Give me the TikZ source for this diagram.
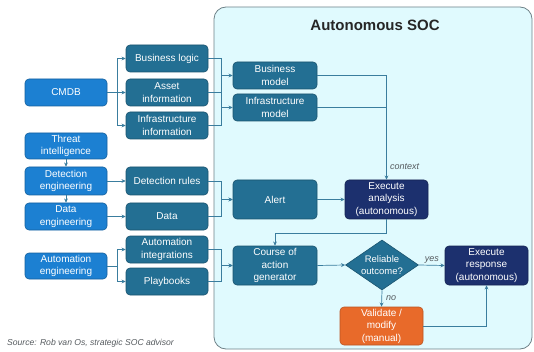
\documentclass[tikz,border=0pt]{standalone}
\usepackage{fontspec}
\setmainfont{Liberation Sans}
\usetikzlibrary{arrows.meta,shapes.geometric}

\definecolor{socbg}{HTML}{E0FAFE}
\definecolor{socedge}{HTML}{6E8288}
\definecolor{srcblue}{HTML}{1C80D2}
\definecolor{tealbox}{HTML}{236F93}
\definecolor{navybox}{HTML}{1C306E}
\definecolor{orangebox}{HTML}{E86A2A}
\definecolor{linecol}{HTML}{3A7D9E}
\definecolor{notegray}{HTML}{555A5E}

\begin{document}
\begin{tikzpicture}[x=1pt,y=-1pt,
  box/.style={rounded corners=4pt, line width=0.6pt, text=white, align=center,
    font=\fontsize{10}{12.5}\selectfont, inner sep=1pt,
    minimum width=82pt, minimum height=27pt},
  srcbox/.style={box, fill=srcblue, draw=srcblue!75!black},
  tealnode/.style={box, fill=tealbox, draw=tealbox!75!black},
  socnode/.style={box, fill=tealbox, draw=tealbox!75!black, minimum width=84pt},
  navynode/.style={box, fill=navybox, draw=navybox!75!black, minimum width=83pt, minimum height=39pt},
  ln/.style={draw=linecol, line width=0.7pt},
  arr/.style={ln, -{Stealth[length=4.2pt,width=3.8pt]}},
  note/.style={font=\fontsize{9}{11}\selectfont\itshape, text=notegray, inner sep=1pt}
]
\useasboundingbox (0,0) rectangle (534,352);

% Autonomous SOC frame
\draw[fill=socbg, draw=socedge, line width=0.8pt, rounded corners=12pt] (214,7) rectangle (532,349);
\node[font=\fontsize{15}{18}\selectfont\bfseries, text=black!85] (title) at (375,25) {Autonomous SOC};

% source column
\node[srcbox] (cmdb)    at (66,92.5)  {CMDB};
\node[srcbox, minimum height=26pt] (threat)  at (66,146)   {Threat\\intelligence};
\node[srcbox, minimum height=28pt] (deteng)  at (66,181)   {Detection\\engineering};
\node[srcbox] (dataeng) at (66,216.5) {Data\\engineering};
\node[srcbox, minimum height=26pt] (autoeng) at (66,266)   {Automation\\engineering};

% artefact column
\node[tealnode] (bizlogic)  at (167,58.5)  {Business logic};
\node[tealnode] (asset)     at (167,92.5)  {Asset\\information};
\node[tealnode] (infrainfo) at (167,125.5) {Infrastructure\\information};
\node[tealnode, minimum height=28pt] (detrules) at (167,181) {Detection rules};
\node[tealnode] (data)      at (167,216.5) {Data};
\node[tealnode] (autoint)   at (167,249.5) {Automation\\integrations};
\node[tealnode] (playbooks) at (167,281.5) {Playbooks};

% SOC models and processing
\node[socnode] (bizmodel)   at (275,75.5)  {Business\\model};
\node[socnode] (inframodel) at (275,107.5) {Infrastructure\\model};
\node[socnode, minimum height=39pt] (alert) at (275,199.5) {Alert};
\node[socnode, minimum height=39pt] (coa)   at (275,265.5) {Course of\\action\\generator};
\node[navynode] (analysis) at (386.5,199.5) {Execute\\analysis\\(autonomous)};
\node[shape=diamond, fill=tealbox, draw=tealbox!75!black, line width=0.6pt,
      minimum width=73pt, minimum height=50pt, inner sep=0pt,
      label={[text=white, align=center, font=\fontsize{9.5}{11.5}\selectfont]center:Reliable\\outcome?}]
      (rel) at (382,265) {};
\node[navynode] (response) at (486.5,265.5) {Execute\\response\\(autonomous)};
\node[box, fill=orangebox, draw=orangebox!80!black, minimum width=83pt, minimum height=38pt]
      (validate) at (381.5,326) {Validate /\\modify\\(manual)};

% CMDB fan-out
\draw[arr] (cmdb.east) -- ++(10,0) |- (bizlogic.west);
\draw[arr] (cmdb.east) -- (asset.west);
\draw[arr] (cmdb.east) -- ++(10,0) |- (infrainfo.west);

% artefacts into models
\draw[ln] (bizlogic.east) -- ++(13,0) |- (infrainfo.east);
\draw[ln] (asset.east) -- ++(13,0);
\draw[arr] (bizlogic.east) ++(13,0) |- (bizmodel.west);
\draw[arr] (infrainfo.east) ++(13,0) |- (inframodel.west);

% context into analysis
\draw[arr] (bizmodel.east) -| (analysis.north);
\draw[ln] (inframodel.east) -- (inframodel.east -| analysis.north);
\node[note, anchor=west] (ctx) at (389,167) {context};

% engineering chain
\draw[arr] (threat.south) -- (deteng.north);
\draw[arr] (deteng.south) -- (dataeng.north);
\draw[arr] (deteng.east) -- (detrules.west);
\draw[arr] (dataeng.east) -- (data.west);
\draw[arr] (detrules.east) -- ++(13,0) |- (alert.west);
\draw[arr] (data.east) -- ++(13,0) |- (alert.west);
\draw[arr] (alert.east) -- (analysis.west);

% analysis to course of action
\draw[arr] (analysis.south) -- ++(0,14) -| (coa.north);

% automation
\draw[arr] (autoeng.east) -- ++(10,0) |- (autoint.west);
\draw[arr] (autoeng.east) -- ++(10,0) |- (playbooks.west);
\draw[arr] (autoint.east) -- ++(13,0) |- (coa.west);
\draw[arr] (playbooks.east) -- ++(13,0) |- (coa.west);

% decision
\draw[arr] (coa.east) -- (rel.west);
\draw[arr] (rel.east) -- node[note, above=1pt] (yes) {yes} (response.west);
\draw[arr] (rel.south) -- node[note, right=3pt] (no) {no} (validate.north);
\draw[arr] (validate.east) -| (response.south);

% source line
\node[font=\fontsize{8.6}{10}\selectfont\itshape, text=notegray, anchor=west, inner sep=0pt]
  (src) at (7,343) {Source: Rob van Os, strategic SOC advisor};
\end{tikzpicture}
\end{document}
